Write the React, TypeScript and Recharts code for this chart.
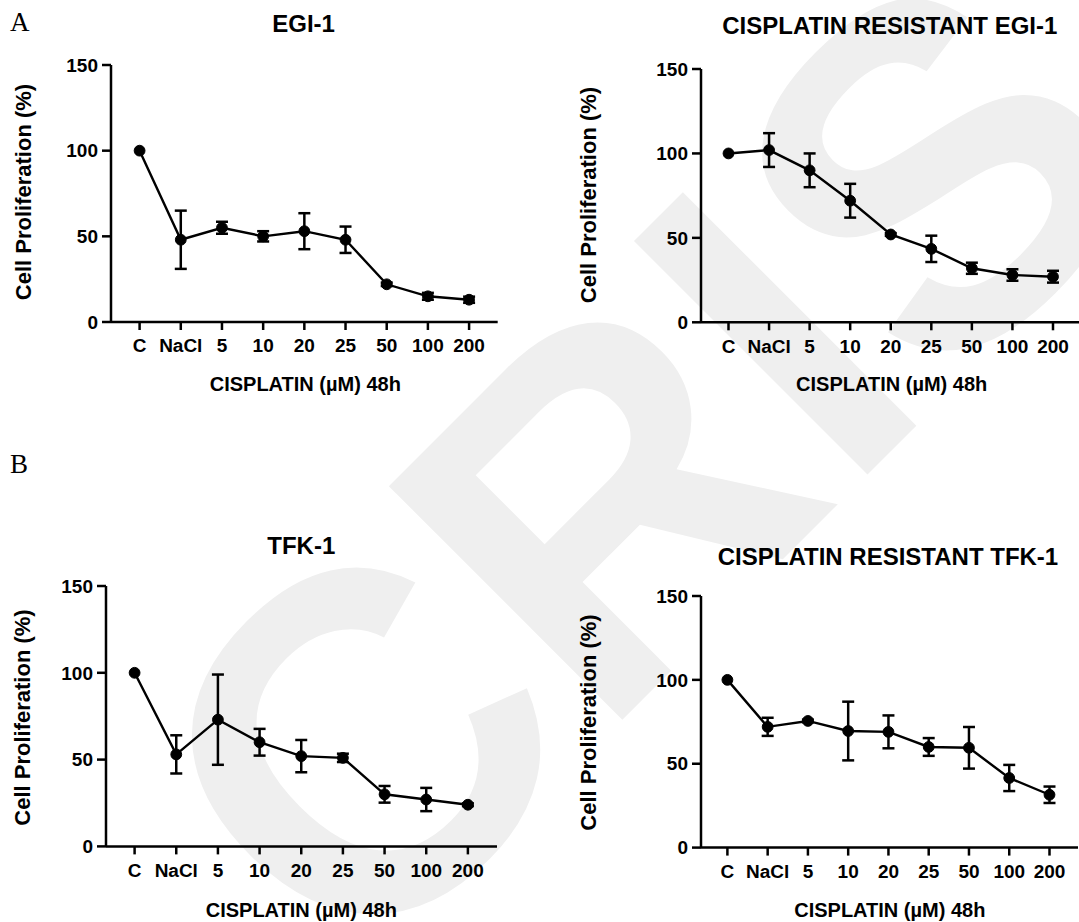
import React from 'react';
import { LineChart, Line, XAxis, YAxis, ErrorBar } from 'recharts';

const categories = ['C', 'NaCl', '5', '10', '20', '25', '50', '100', '200'];
const yTicks = [0, 50, 100, 150];

const egiMean = [100, 48, 55, 50, 53, 48, 22, 15, 13];
const egiErr = [null, 17, 3.5, 3, 10.5, 7.7, 1, 2, 1.8];

const egiResMean = [100, 102, 90, 72, 52, 43.5, 32, 28, 27];
const egiResErr = [null, 10, 10, 10, 0.8, 7.8, 3.3, 3.4, 3.5];

const tfkMean = [100, 53, 73, 60, 52, 51, 30, 27, 24];
const tfkErr = [null, 11, 26, 7.7, 9.3, 2.4, 4.8, 6.7, 0.8];

const tfkResMean = [100, 72, 75.5, 69.5, 69, 60, 59.5, 41.5, 31.5];
const tfkResErr = [null, 5.4, 0.8, 17.5, 9.8, 5.3, 12.4, 7.8, 4.9];

const FONT = "'Liberation Sans', Arial, Helvetica, sans-serif";
const Y_AXIS_W = 70;
const X_AXIS_H = 50;
const TOP_PAD = 10;

const toRows = (mean: number[], err: (number | null)[]) =>
  categories.map((c, i) => ({ dose: c, mean: mean[i], err: err[i] }));

type PanelProps = {
  mean: number[];
  err: (number | null)[];
  left: number;
  right: number;
  top: number;
  bottom: number;
  padL: number;
  padR: number;
};

// one panel: plot area is placed at (left..right, top..bottom) of the page
const Panel: React.FC<PanelProps> = ({ mean, err, left, right, top, bottom, padL, padR }) => {
  const width = right - left + Y_AXIS_W;
  const height = bottom - top + TOP_PAD + X_AXIS_H;
  const tickStyle = { fill: '#000', fontSize: 19, fontWeight: 700, fontFamily: FONT };
  return (
    <div style={{ position: 'absolute', left: left - Y_AXIS_W, top: top - TOP_PAD }}>
      <LineChart
        width={width}
        height={height}
        data={toRows(mean, err)}
        margin={{ top: TOP_PAD, right: 0, bottom: 0, left: 0 }}
      >
        <XAxis
          dataKey="dose"
          type="category"
          interval={0}
          height={X_AXIS_H}
          padding={{ left: padL, right: padR }}
          axisLine={{ stroke: '#000', strokeWidth: 2.5 }}
          tickLine={{ stroke: '#000', strokeWidth: 2.5 }}
          tickSize={8}
          tickMargin={9}
          tick={tickStyle}
        />
        <YAxis
          type="number"
          domain={[0, 150]}
          ticks={yTicks}
          width={Y_AXIS_W}
          interval={0}
          axisLine={{ stroke: '#000', strokeWidth: 2.5 }}
          tickLine={{ stroke: '#000', strokeWidth: 2.5 }}
          tickSize={9}
          tickMargin={4}
          tick={tickStyle}
        />
        <Line
          type="linear"
          dataKey="mean"
          stroke="#000"
          strokeWidth={2.4}
          dot={{ r: 5.4, fill: '#000', stroke: '#000', strokeWidth: 1 }}
          activeDot={false}
          isAnimationActive={false}
        >
          <ErrorBar dataKey="err" direction="y" width={6} stroke="#000" strokeWidth={2.5} isAnimationActive={false} />
        </Line>
      </LineChart>
    </div>
  );
};

const boldText = { fontFamily: FONT, fontWeight: 700, fill: '#000' };

const App: React.FC = () => {
  return (
    <div
      style={{
        position: 'absolute',
        left: 0,
        top: 0,
        width: 1079,
        height: 922,
        background: '#fff',
        overflow: 'hidden',
      }}
    >
      {/* faint watermark behind the figure */}
      <svg width={1079} height={922} style={{ position: 'absolute', left: 0, top: 0 }}>
        <text
          x={760}
          y={582}
          textAnchor="middle"
          fontSize={480}
          fontWeight={700}
          fontFamily={FONT}
          fill="#efefef"
          transform="rotate(-45 760 582)"
        >
          CRIS
        </text>
      </svg>

      <Panel mean={egiMean} err={egiErr} left={110.9} right={497.6} top={65} bottom={322} padL={28.6} padR={28.6} />
      <Panel mean={egiResMean} err={egiResErr} left={700.9} right={1080} top={69} bottom={322.3} padL={27.5} padR={27.1} />
      <Panel mean={tfkMean} err={tfkErr} left={105.7} right={496.9} top={586.3} bottom={846.7} padL={28.6} padR={29.3} />
      <Panel mean={tfkResMean} err={tfkResErr} left={700.9} right={1078} top={595.7} bottom={847.3} padL={26.4} padR={28.6} />

      <svg width={1079} height={922} style={{ position: 'absolute', left: 0, top: 0, pointerEvents: 'none' }}>
        <text x={10} y={31} fontSize={27} fontFamily="'Liberation Serif', 'Times New Roman', serif">A</text>
        <text x={10} y={473} fontSize={27} fontFamily="'Liberation Serif', 'Times New Roman', serif">B</text>

        <text x={303.6} y={32.3} fontSize={24} textAnchor="middle" {...boldText}>EGI-1</text>
        <text x={889.8} y={34.3} fontSize={24} textAnchor="middle" {...boldText}>CISPLATIN RESISTANT EGI-1</text>
        <text x={301.3} y={553.6} fontSize={24} textAnchor="middle" {...boldText}>TFK-1</text>
        <text x={888} y={565.3} fontSize={24} textAnchor="middle" {...boldText}>CISPLATIN RESISTANT TFK-1</text>

        <text x={305.3} y={390.9} fontSize={20} textAnchor="middle" {...boldText}>CISPLATIN (µM) 48h</text>
        <text x={891.7} y={391.4} fontSize={20} textAnchor="middle" {...boldText}>CISPLATIN (µM) 48h</text>
        <text x={301.3} y={917.3} fontSize={20} textAnchor="middle" {...boldText}>CISPLATIN (µM) 48h</text>
        <text x={889.8} y={917.3} fontSize={20} textAnchor="middle" {...boldText}>CISPLATIN (µM) 48h</text>

        <text x={30.7} y={192} fontSize={22} textAnchor="middle" transform="rotate(-90 30.7 192)" {...boldText}>Cell Proliferation (%)</text>
        <text x={596.4} y={195} fontSize={22} textAnchor="middle" transform="rotate(-90 596.4 195)" {...boldText}>Cell Proliferation (%)</text>
        <text x={29.7} y={717.5} fontSize={22} textAnchor="middle" transform="rotate(-90 29.7 717.5)" {...boldText}>Cell Proliferation (%)</text>
        <text x={596.4} y={722.5} fontSize={22} textAnchor="middle" transform="rotate(-90 596.4 722.5)" {...boldText}>Cell Proliferation (%)</text>
      </svg>
    </div>
  );
};

export default App;
